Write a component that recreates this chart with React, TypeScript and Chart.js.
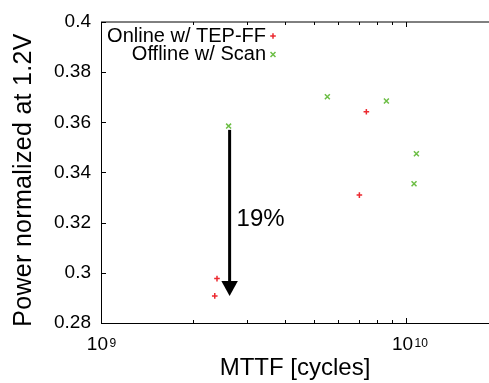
import React, { useEffect, useRef } from 'react';
import { Chart, registerables } from 'chart.js';

Chart.register(...registerables);

const FONT = "'Liberation Sans', Arial, Helvetica, sans-serif";

const xTitle = 'MTTF [cycles]';
const yTitle = 'Power normalized at 1.2V';
const seriesNames = ['Online w/ TEP-FF', 'Offline w/ Scan'];
const seriesColors = ['#ec2a30', '#6cbe45'];

const onlineX = [2.36e9, 2.4e9, 7.03e9, 7.41e9];
const onlineY = [0.2908, 0.2977, 0.331, 0.3642];
const offlineX = [2.62e9, 5.52e9, 8.62e9, 1.081e10, 1.062e10];
const offlineY = [0.3585, 0.3702, 0.3685, 0.3475, 0.3355];

const xMin = 1e9;
const xMax = 1.87e10;
const yMin = 0.28;
const yMax = 0.4;
const yStep = 0.02;
const xMajorTicks = [1e9, 1e10];
const xMajorBase = ['10', '10'];
const xMajorExp = ['9', '10'];
const xMinorTicks = [2e9, 3e9, 4e9, 5e9, 6e9, 7e9, 8e9, 9e9];

const arrowX = 2.64e9;
const arrowFromY = 0.357;
const arrowToY = 0.2908;
const arrowLabel = '19%';
const arrowLabelY = 0.3215;

function drawPlus(ctx: CanvasRenderingContext2D, cx: number, cy: number, r: number) {
  ctx.beginPath();
  ctx.moveTo(cx - r, cy);
  ctx.lineTo(cx + r, cy);
  ctx.moveTo(cx, cy - r);
  ctx.lineTo(cx, cy + r);
  ctx.stroke();
}
function drawX(ctx: CanvasRenderingContext2D, cx: number, cy: number, r: number) {
  const o = r * Math.SQRT1_2;
  ctx.beginPath();
  ctx.moveTo(cx - o, cy - o);
  ctx.lineTo(cx + o, cy + o);
  ctx.moveTo(cx - o, cy + o);
  ctx.lineTo(cx + o, cy - o);
  ctx.stroke();
}

const decor = {
  id: 'decor',
  afterDatasetsDraw(chart: any) {
    const { ctx, chartArea: a, scales } = chart;
    const x = scales.x;
    const y = scales.y;
    ctx.save();
    ctx.strokeStyle = '#000';
    ctx.fillStyle = '#000';
    ctx.lineWidth = 1;
    // top border
    ctx.beginPath();
    ctx.moveTo(a.left, a.top);
    ctx.lineTo(a.right, a.top);
    ctx.stroke();
    // inward ticks
    ctx.beginPath();
    for (let v = yMin; v <= yMax + 1e-9; v += yStep) {
      const py = Math.round(y.getPixelForValue(v)) + 0.5;
      ctx.moveTo(a.left, py);
      ctx.lineTo(a.left + 5, py);
    }
    for (const t of xMajorTicks) {
      const px = Math.round(x.getPixelForValue(t)) + 0.5;
      ctx.moveTo(px, a.bottom);
      ctx.lineTo(px, a.bottom - 5);
      ctx.moveTo(px, a.top);
      ctx.lineTo(px, a.top + 5);
    }
    for (const t of xMinorTicks) {
      const px = Math.round(x.getPixelForValue(t)) + 0.5;
      ctx.moveTo(px, a.bottom);
      ctx.lineTo(px, a.bottom - 3);
      ctx.moveTo(px, a.top);
      ctx.lineTo(px, a.top + 3);
    }
    ctx.stroke();

    // x tick labels with superscripts
    xMajorTicks.forEach((t, i) => {
      const px = x.getPixelForValue(t);
      ctx.textBaseline = 'alphabetic';
      ctx.textAlign = 'right';
      ctx.font = `19px ${FONT}`;
      ctx.fillText(xMajorBase[i], px + 7, a.bottom + 27);
      ctx.textAlign = 'left';
      ctx.font = `12px ${FONT}`;
      ctx.fillText(xMajorExp[i], px + 8.5, a.bottom + 23.5);
    });

    // arrow
    const ax = x.getPixelForValue(arrowX);
    const y0 = y.getPixelForValue(arrowFromY);
    const y1 = y.getPixelForValue(arrowToY);
    const headH = 15;
    const headW = 16.5;
    ctx.lineWidth = 3;
    ctx.beginPath();
    ctx.moveTo(ax, y0);
    ctx.lineTo(ax, y1 - headH + 1);
    ctx.stroke();
    ctx.beginPath();
    ctx.moveTo(ax - headW / 2, y1 - headH);
    ctx.lineTo(ax + headW / 2, y1 - headH);
    ctx.lineTo(ax, y1);
    ctx.closePath();
    ctx.fill();
    ctx.font = `24px ${FONT}`;
    ctx.textAlign = 'left';
    ctx.textBaseline = 'middle';
    ctx.fillText(arrowLabel, ax + 7, y.getPixelForValue(arrowLabelY));

    // legend
    ctx.font = `20px ${FONT}`;
    ctx.textAlign = 'right';
    ctx.textBaseline = 'middle';
    const rows = [a.top + 14, a.top + 32.5];
    seriesNames.forEach((n, i) => {
      ctx.fillStyle = '#000';
      ctx.fillText(n, a.left + 165, rows[i]);
      ctx.strokeStyle = seriesColors[i];
      ctx.lineWidth = 1.5;
      if (i === 0) drawPlus(ctx, a.left + 172, rows[i], 2.8);
      else drawX(ctx, a.left + 172, rows[i], 3.5);
    });

    // y title
    ctx.fillStyle = '#000';
    ctx.translate(24, 180);
    ctx.rotate(-Math.PI / 2);
    ctx.font = `25px ${FONT}`;
    try { (ctx as any).letterSpacing = '0.3px'; } catch (e) {}
    ctx.textAlign = 'center';
    ctx.textBaseline = 'middle';
    ctx.fillText(yTitle, 0, 0);
    ctx.restore();
  },
};

export default function App() {
  const ref = useRef<HTMLCanvasElement | null>(null);
  useEffect(() => {
    if (!ref.current) return;
    const chart = new Chart(ref.current, {
      type: 'scatter',
      data: {
        datasets: [
          {
            label: seriesNames[0],
            data: onlineX.map((v, i) => ({ x: v, y: onlineY[i] })),
            pointStyle: 'cross',
            pointRadius: 2.8,
            pointBorderWidth: 1.5,
            borderColor: seriesColors[0],
            backgroundColor: seriesColors[0],
          },
          {
            label: seriesNames[1],
            data: offlineX.map((v, i) => ({ x: v, y: offlineY[i] })),
            pointStyle: 'crossRot',
            pointRadius: 3.5,
            pointBorderWidth: 1.5,
            borderColor: seriesColors[1],
            backgroundColor: seriesColors[1],
          },
        ],
      },
      options: {
        animation: false,
        responsive: true,
        maintainAspectRatio: false,
        layout: { autoPadding: false, padding: { top: 22, right: 0, left: 0, bottom: 0 } },
        plugins: { legend: { display: false }, tooltip: { enabled: false } },
        scales: {
          x: {
            type: 'logarithmic',
            position: 'bottom',
            min: xMin,
            max: xMax,
            grid: { display: false, drawTicks: false },
            border: { display: true, color: '#000', width: 1 },
            ticks: { display: false },
            title: {
              display: true,
              text: xTitle,
              color: '#000',
              font: { family: FONT, size: 24 },
              padding: { top: 0, bottom: 0 },
            },
            afterFit: (s: any) => { s.height = 60; },
          },
          y: {
            type: 'linear',
            position: 'left',
            min: yMin,
            max: yMax,
            grid: { display: false, drawTicks: false },
            border: { display: true, color: '#000', width: 1 },
            ticks: {
              stepSize: yStep,
              color: '#000',
              padding: 10,
              font: { family: FONT, size: 19 },
              callback: (v: any) => String(Number(Number(v).toFixed(2))),
            },
            afterFit: (s: any) => { s.width = 101; },
          },
        },
      },
      plugins: [decor],
    });
    return () => chart.destroy();
  }, []);
  return (
    <div style={{ position: 'fixed', left: 0, top: 0, width: 489, height: 383, background: '#fff' }}>
      <canvas ref={ref} />
    </div>
  );
}
